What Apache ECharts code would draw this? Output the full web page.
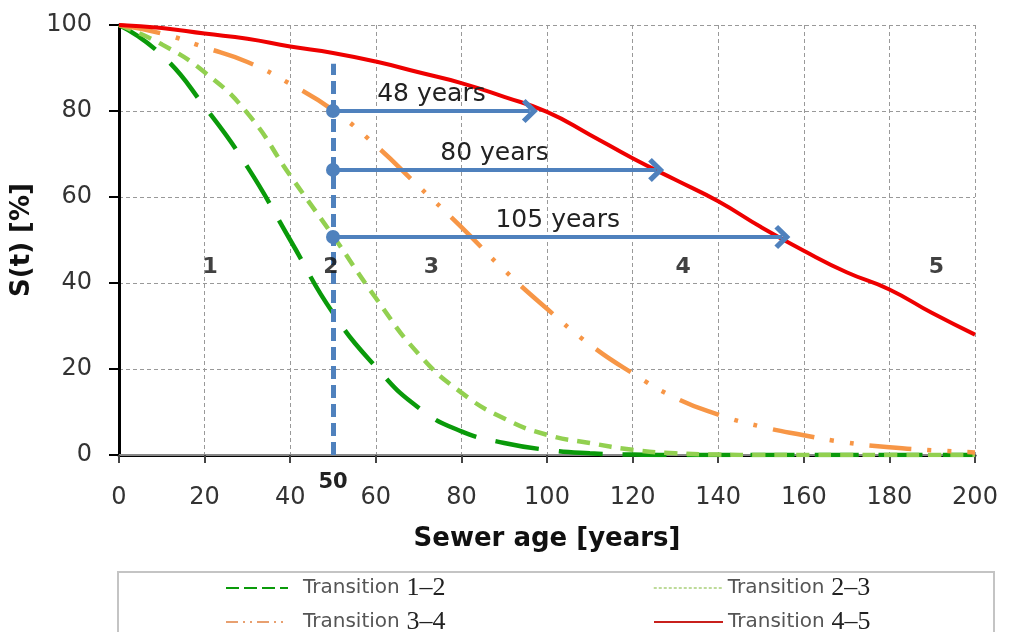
<!DOCTYPE html>
<html>
<head>
<meta charset="utf-8">
<title>Sewer condition transitions</title>
<script src="https://cdn.jsdelivr.net/npm/echarts@6/dist/echarts.min.js"></script>
<style>
  html, body { margin: 0; padding: 0; background: #fff; }
  #chart { width: 1011px; height: 632px; }
</style>
</head>
<body>
<div id="chart"></div>
<script>
// sewer age [years]
const ages = [0, 10, 20, 30, 40, 50, 60, 70, 80, 90, 100, 110, 120, 130, 140, 150, 160, 170, 180, 190, 200]

// survival S(t) [%] per transition
const transition12 = [100, 93, 81, 67, 50, 33, 20.5, 11, 5.5, 2.8, 1.2, 0.4, 0.1, 0, 0, 0, 0, 0, 0, 0, 0]
const transition23 = [100, 95.5, 89, 79.5, 65, 51, 36.5, 23.5, 14.5, 8.5, 4.7, 2.8, 1.2, 0.4, 0.1, 0, 0, 0, 0, 0, 0]
const transition34 = [100, 98, 94.8, 91.4, 86.3, 80.2, 72, 62.5, 53, 43, 34, 25.7, 19, 13.3, 9.4, 6.6, 4.6, 2.9, 1.8, 1.1, 0.6]
const transition45 = [100, 99.3, 98, 96.8, 95, 93.5, 91.5, 89, 86.5, 83.3, 79.8, 74.5, 69, 64, 59, 53, 47.5, 42.5, 38.5, 33, 28]

const seriesNames = ['Transition 1–2', 'Transition 2–3', 'Transition 3–4', 'Transition 4–5']

// annotation: reference age and the residual-life arrows
const refAge = 50
const refLineTop = 91
const arrowLevels = [80, 66.3, 50.7]
const arrowEnds = [96, 125.5, 155]
const arrowLabels = ['48 years', '80 years', '105 years']

// condition class labels
const zoneAges = [21.3, 49.5, 73, 131.8, 191]
const zoneLevel = 43.7
const zoneLabels = ['1', '2', '3', '4', '5']

const xTicks = { min: 0, max: 200, interval: 20 }
const yTicks = { min: 0, max: 100, interval: 20 }

const FONT = '"DejaVu Sans", Verdana, sans-serif'
const BLUE = '#4f81bd'
const COLORS = ['#0a9a0a', '#92d050', '#f79646', '#ee0000']
const CHEVRON = 'path://M10,0 L20,10 L17,13 L10,6 L3,13 L0,10 Z'

const pairs = (vals) => ages.map((a, i) => [a, vals[i]])

const chart = echarts.init(document.getElementById('chart'))

const arrowLines = arrowLevels.map((lvl, i) => [
  {
    coord: [refAge, lvl],
    symbol: 'circle',
    symbolSize: 14,
    lineStyle: { color: BLUE, width: 4, type: 'solid' },
    label: {
      show: true,
      position: 'insideMiddleTop',
      formatter: arrowLabels[i],
      color: '#222',
      fontFamily: FONT,
      fontSize: 25,
      distance: 4
    }
  },
  {
    coord: [arrowEnds[i], lvl],
    symbol: CHEVRON,
    symbolSize: [24, 16]
  }
])

const refLine = [
  {
    coord: [refAge, 0],
    symbol: 'none',
    lineStyle: { color: BLUE, width: 5, type: [13, 6] },
    label: {
      show: true,
      position: 'start',
      formatter: String(refAge),
      color: '#222',
      fontFamily: FONT,
      fontWeight: 'bold',
      fontSize: 21,
      distance: 17
    }
  },
  { coord: [refAge, refLineTop], symbol: 'none' }
]

// legend swatches are drawn thinner and denser than the plotted lines
const legendLines = {
  'Transition 1–2': { color: COLORS[0], width: 2, type: [13, 5] },
  'Transition 2–3': { color: '#a9cf7a', width: 1.5, type: [3, 2] },
  'Transition 3–4': { color: '#e8a070', width: 2, type: [12, 5, 2, 5, 2, 5] },
  'Transition 4–5': { color: '#c8201c', width: 2, type: 'solid' }
}

// one legend per entry: [left, top, swatch width, text padding]
const legendSlots = [
  [225, 575, 62, 10],
  [653, 575, 69, 0],
  [225, 609, 62, 10],
  [653, 609, 69, 0]
]

const legends = seriesNames.map((name, i) => {
  const [left, top, w, pad] = legendSlots[i]
  return {
    data: [{ name, lineStyle: legendLines[name] }],
    left,
    top,
    padding: 0,
    itemWidth: w,
    itemHeight: 14,
    itemStyle: { opacity: 0 },
    formatter: (n) => `{t|Transition}  {n|${n.split(' ')[1]}}`,
    textStyle: {
      rich: {
        t: { fontFamily: FONT, fontSize: 20, color: '#555', padding: [0, 0, 0, pad] },
        n: { fontFamily: '"Liberation Serif", "Times New Roman", serif', fontSize: 26, color: '#222' }
      }
    }
  }
})

chart.setOption({
  animation: false,
  grid: { left: 119, right: 36, top: 25, bottom: 177 },
  legend: legends,
  graphic: [
    {
      type: 'rect',
      left: 117,
      top: 571,
      z: -1,
      shape: { width: 876, height: 80 },
      style: { fill: '#fff', stroke: '#c4c4c4', lineWidth: 2 }
    }
  ],
  xAxis: [
    {
      type: 'value',
      ...xTicks,
      name: 'Sewer age [years]',
      nameLocation: 'middle',
      nameGap: 71,
      nameTextStyle: { fontFamily: FONT, fontWeight: 'bold', fontSize: 26, color: '#111' },
      axisLine: { lineStyle: { color: '#000', width: 3 } },
      axisTick: { show: true, length: 8, lineStyle: { color: '#444', width: 2 } },
      axisLabel: { margin: 31, fontFamily: FONT, fontSize: 24, color: '#333' },
      splitLine: { show: true, lineStyle: { color: '#999', width: 1, type: [4, 3] } }
    },
    {
      type: 'value',
      ...xTicks,
      position: 'top',
      axisLine: { show: true, lineStyle: { color: '#888', width: 2 } },
      axisTick: { show: false },
      axisLabel: { show: false },
      splitLine: { show: false }
    }
  ],
  yAxis: [
    {
      type: 'value',
      ...yTicks,
      name: 'S(t) [%]',
      nameLocation: 'middle',
      nameGap: 78,
      nameTextStyle: { fontFamily: FONT, fontWeight: 'bold', fontSize: 26, color: '#111' },
      axisLine: { show: true, lineStyle: { color: '#000', width: 3 } },
      axisTick: { show: true, length: 10, lineStyle: { color: '#000', width: 2 } },
      axisLabel: { margin: 27, fontFamily: FONT, fontSize: 24, color: '#333' },
      splitLine: { show: true, lineStyle: { color: '#999', width: 1, type: [4, 3] } }
    },
    {
      type: 'value',
      ...yTicks,
      position: 'right',
      axisLine: { show: true, lineStyle: { color: '#000', width: 3 } },
      axisTick: { show: false },
      axisLabel: { show: false },
      splitLine: { show: false }
    }
  ],
  series: [
    {
      name: seriesNames[0],
      type: 'line',
      smooth: true,
      symbol: 'none',
      data: pairs(transition12),
      lineStyle: { color: COLORS[0], width: 4.5, type: [44, 20] },
      itemStyle: { color: COLORS[0] },
      z: 3
    },
    {
      name: seriesNames[1],
      type: 'line',
      smooth: true,
      symbol: 'none',
      data: pairs(transition23),
      lineStyle: { color: COLORS[1], width: 4.5, type: [13, 9] },
      itemStyle: { color: COLORS[1] },
      z: 3
    },
    {
      name: seriesNames[2],
      type: 'line',
      smooth: true,
      symbol: 'none',
      data: pairs(transition34),
      lineStyle: { color: COLORS[2], width: 4.5, type: [42, 16, 4, 16, 4, 16] },
      itemStyle: { color: COLORS[2] },
      z: 3
    },
    {
      name: seriesNames[3],
      type: 'line',
      smooth: true,
      symbol: 'none',
      data: pairs(transition45),
      lineStyle: { color: COLORS[3], width: 4, type: 'solid' },
      itemStyle: { color: COLORS[3] },
      z: 4
    },
    {
      name: 'annotations',
      type: 'line',
      data: [],
      z: 5,
      markLine: {
        silent: true,
        animation: false,
        itemStyle: { color: BLUE },
        lineStyle: { color: BLUE, width: 4, type: 'solid' },
        data: [refLine, ...arrowLines]
      }
    },
    {
      name: 'zones',
      type: 'scatter',
      symbolSize: 1,
      itemStyle: { color: 'rgba(0,0,0,0)' },
      data: zoneAges.map((a) => [a, zoneLevel]),
      label: {
        show: true,
        position: 'inside',
        formatter: (p) => zoneLabels[p.dataIndex],
        fontFamily: FONT,
        fontWeight: 'bold',
        fontSize: 22,
        color: '#111'
      },
      z: 6
    }
  ]
})
</script>
</body>
</html>
